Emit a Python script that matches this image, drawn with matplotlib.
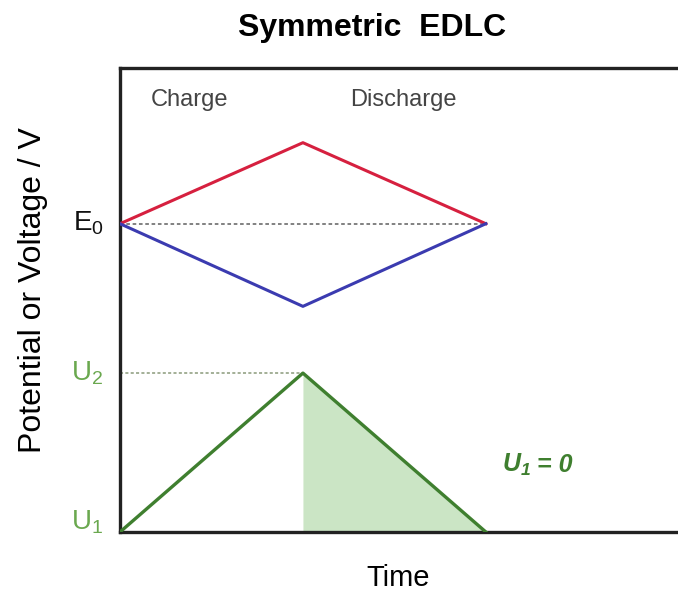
import matplotlib
matplotlib.use("Agg")
import matplotlib.pyplot as plt

plt.rcParams["font.family"] = ["Liberation Sans", "DejaVu Sans"]
plt.rcParams["mathtext.fontset"] = "custom"
plt.rcParams["mathtext.rm"] = "Liberation Sans"
plt.rcParams["mathtext.it"] = "Liberation Sans:italic"
plt.rcParams["mathtext.bf"] = "Liberation Sans:bold:italic"

# time points: start, end of charge, end of discharge
t = [0, 1, 2]
# electrode potentials (arbitrary units, U2 = 1)
E0 = 1.94
pos_electrode = [E0, 2.45, E0]
neg_electrode = [E0, 1.42, E0]
# cell voltage
U1, U2 = 0.0, 1.0
cell_voltage = [U1, U2, U1]

red = "#d6203f"
blue = "#3b3bb0"
green = "#3f7f2f"
light_green = "#6aa84f"
fill_green = "#cbe5c5"

fig = plt.figure(figsize=(6.78, 5.93), dpi=100)
ax = fig.add_axes([120 / 678, 61 / 593, 600 / 678, 464 / 593])

ax.fill_between(t[1:], cell_voltage[1:], 0, color=fill_green, lw=0, zorder=1)
ax.plot(t, [E0] * 3, ls=(0, (2, 1.5)), color="#777777", lw=1.3, zorder=2)
ax.plot(t[:2], [U2, U2], ls=(0, (2, 1.5)), color="#8a9a7a", lw=1.1, zorder=2)
ax.plot(t, pos_electrode, color=red, lw=2.2, zorder=3)
ax.plot(t, neg_electrode, color=blue, lw=2.2, zorder=3)
ax.plot(t, cell_voltage, color=green, lw=2.4, zorder=3)

ax.set_xlim(0, 3.28)
ax.set_ylim(0, 2.92)
ax.set_xticks([])
ax.set_yticks([])
for s in ax.spines.values():
    s.set_linewidth(2.4)
    s.set_color("#222222")

ax.text(0.17, 2.72, "Charge", fontsize=17, color="#444444", ha="left", va="center")
ax.text(1.26, 2.72, "Discharge", fontsize=17, color="#444444", ha="left", va="center")
ax.text(2.09, 0.42, "$\\mathbf{U_1}$", fontsize=18, color=green,
        ha="left", va="center")
ax.text(2.28, 0.42, "= 0", fontsize=18, color=green,
        ha="left", va="center", fontweight="bold", fontstyle="italic")

ax.text(-0.09, E0, "E$_0$", fontsize=20, color="#111111", ha="right", va="center")
ax.text(-0.09, U2, "U$_2$", fontsize=20, color=light_green, ha="right", va="center")
ax.text(-0.09, 0.06, "U$_1$", fontsize=20, color=light_green, ha="right", va="center")

fig.text(372 / 678, 1 - 28 / 593, "Symmetric  EDLC", fontsize=23, fontweight="bold",
         ha="center", va="center")
fig.text(33 / 678, 1 - 290 / 593, "Potential or Voltage / V", fontsize=23,
         rotation=90, ha="center", va="center")
fig.text(398 / 678, 1 - 578 / 593, "Time", fontsize=21, ha="center", va="center")

fig.savefig("out.png", dpi=100)
